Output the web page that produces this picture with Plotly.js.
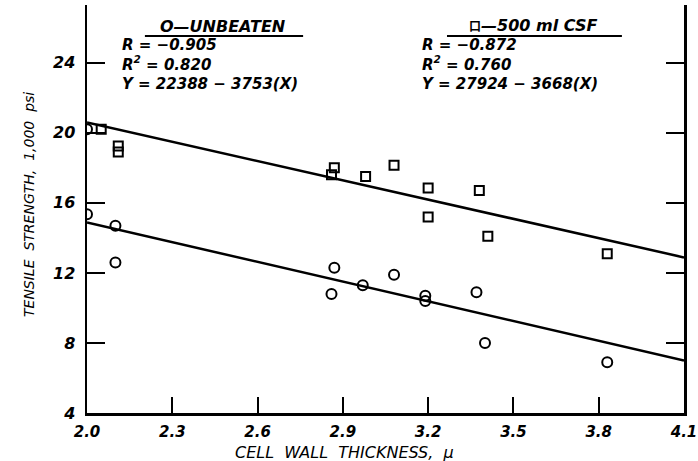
<!DOCTYPE html>
<html>
<head>
<meta charset="utf-8">
<script src="https://cdn.plot.ly/plotly-3.0.1.min.js"></script>
<style>html,body{margin:0;padding:0;background:#fff;}#chart{width:698px;height:461px;}</style>
</head>
<body>
<div id="chart"></div>
<script>
// Unbeaten (circles)
const unbeatenX = [2.00, 2.00, 2.10, 2.10, 2.87, 2.86, 2.97, 3.08, 3.19, 3.19, 3.37, 3.40, 3.83];
const unbeatenY = [20.2, 15.35, 14.7, 12.6, 12.3, 10.8, 11.3, 11.9, 10.7, 10.4, 10.9, 8.0, 6.9];
// 500 ml CSF (squares)
const csfX = [2.05, 2.11, 2.11, 2.87, 2.86, 2.98, 3.08, 3.20, 3.20, 3.38, 3.41, 3.83];
const csfY = [20.2, 19.25, 18.9, 18.0, 17.6, 17.5, 18.15, 16.85, 15.2, 16.7, 14.1, 13.1];
// Regression lines: Y = a - b*X (psi)
const unbeatenFit = {a: 22388, b: 3753};
const csfFit = {a: 27924, b: 3668};
const fitX = [2.0, 4.1];
const xTicks = [2.0, 2.3, 2.6, 2.9, 3.2, 3.5, 3.8, 4.1];
const xTickText = ['2.0', '2.3', '2.6', '2.9', '3.2', '3.5', '3.8', '4.1'];
const yTicks = [4, 8, 12, 16, 20, 24];

const fitLine = f => fitX.map(x => (f.a - f.b * x) / 1000);

const FONT = 'DejaVu Sans';
const traces = [
  {x: fitX, y: fitLine(csfFit), mode: 'lines', line: {color: '#000', width: 2.5}, hoverinfo: 'skip'},
  {x: fitX, y: fitLine(unbeatenFit), mode: 'lines', line: {color: '#000', width: 2.5}, hoverinfo: 'skip'},
  {x: unbeatenX, y: unbeatenY, mode: 'markers', name: 'UNBEATEN',
   marker: {symbol: 'circle-open', size: 10, color: '#000', line: {width: 2, color: '#000'}}},
  {x: csfX, y: csfY, mode: 'markers', name: '500 ml CSF',
   marker: {symbol: 'square-open', size: 9, color: '#000', line: {width: 2, color: '#000'}}}
];

const statFont = {family: FONT, size: 15, color: '#000', weight: 'bold', style: 'italic'};
const headFont = {family: FONT, size: 16, color: '#000', weight: 'bold', style: 'italic'};
const annotations = [
  {text: 'O\u2014UNBEATEN', xref: 'paper', yref: 'paper', x: 0.228, y: 0.947, xanchor: 'center', yanchor: 'middle', showarrow: false, font: headFont},
  {text: 'R = \u22120.905<br>R<sup>2</sup> = 0.820<br>Y = 22388 \u2212 3753(X)', xref: 'paper', yref: 'paper',
   x: 0.055, y: 0.855, xanchor: 'left', yanchor: 'middle', align: 'left', showarrow: false, font: statFont},
  {text: '<span style="font-family:\'Noto Sans CJK JP\';font-weight:bold;font-style:normal;font-size:12px">\u53E3</span>\u2014500 ml CSF', xref: 'paper', yref: 'paper', x: 0.747, y: 0.949, xanchor: 'center', yanchor: 'middle', showarrow: false, font: headFont},
  {text: 'R = \u22120.872<br>R<sup>2</sup> = 0.760<br>Y = 27924 \u2212 3668(X)', xref: 'paper', yref: 'paper',
   x: 0.558, y: 0.855, xanchor: 'left', yanchor: 'middle', align: 'left', showarrow: false, font: statFont},
  {text: 'CELL\u00A0 WALL\u00A0 THICKNESS,\u00A0 \u03BC', xref: 'paper', yref: 'paper',
   x: 0.432, y: -0.0956, xanchor: 'center', yanchor: 'middle', showarrow: false,
   font: {family: FONT, size: 16, color: '#000', style: 'italic'}},
  {text: 'TENSILE\u00A0 STRENGTH,\u00A0 1,000\u00A0 psi', xref: 'paper', yref: 'paper',
   x: -0.097, y: 0.51, xanchor: 'center', yanchor: 'middle', showarrow: false, textangle: -90,
   font: {family: FONT, size: 14, color: '#000', style: 'italic'}}
];
const shapes = [
  {type: 'line', xref: 'paper', yref: 'paper', x0: 0.097, x1: 0.362, y0: 0.924, y1: 0.924, line: {color: '#000', width: 2}},
  {type: 'line', xref: 'paper', yref: 'paper', x0: 0.603, x1: 0.896, y0: 0.924, y1: 0.924, line: {color: '#000', width: 2}}
];

const layout = {
  width: 698, height: 461,
  margin: {l: 87, r: 14, t: 5, b: 48},
  paper_bgcolor: '#fff', plot_bgcolor: '#fff',
  showlegend: false,
  xaxis: {
    range: [2.0, 4.1], tickvals: xTicks, ticktext: xTickText,
    ticks: 'inside', ticklen: 16, tickwidth: 2, tickcolor: '#000',
    showline: true, linecolor: '#000', linewidth: 2.5, mirror: false,
    showgrid: false, zeroline: false, ticklabelstandoff: 3,
    tickfont: {family: FONT, size: 15, color: '#000', weight: 'bold', style: 'italic'}
  },
  yaxis: {
    range: [4, 27.3], tickvals: yTicks,
    ticks: 'inside', ticklen: 18, tickwidth: 2, tickcolor: '#000',
    showline: true, linecolor: '#000', linewidth: 2.5, mirror: 'ticks',
    showgrid: false, zeroline: false, ticklabelstandoff: 6,
    tickfont: {family: FONT, size: 16, color: '#000', weight: 'bold', style: 'italic'}
  },
  annotations: annotations,
  shapes: shapes
};

Plotly.newPlot('chart', traces, layout, {displayModeBar: false, staticPlot: true});
</script>
</body>
</html>
